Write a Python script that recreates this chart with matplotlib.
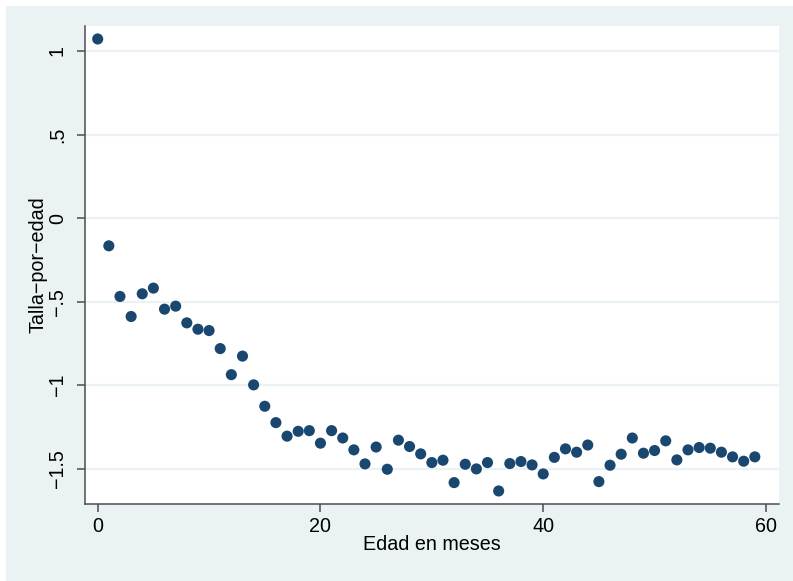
import numpy as np
import matplotlib.pyplot as plt
from matplotlib.patches import Rectangle

# edad en meses y puntaje medio talla-por-edad
edad = list(range(60))
talla = [1.072, -0.166, -0.469, -0.589, -0.453, -0.419, -0.545, -0.527, -0.627, -0.665,
         -0.673, -0.781, -0.937, -0.826, -0.998, -1.126, -1.224, -1.305, -1.276, -1.272,
         -1.347, -1.272, -1.316, -1.387, -1.471, -1.370, -1.503, -1.329, -1.367, -1.411,
         -1.463, -1.449, -1.583, -1.473, -1.501, -1.463, -1.633, -1.469, -1.457, -1.477,
         -1.531, -1.432, -1.381, -1.401, -1.358, -1.577, -1.479, -1.413, -1.316, -1.407,
         -1.391, -1.333, -1.447, -1.387, -1.373, -1.377, -1.401, -1.429, -1.455, -1.429]

xticks = [0, 20, 40, 60]
yticks = [1, 0.5, 0, -0.5, -1, -1.5]
ytick_labels = ["1", ".5", "0", "\u2212.5", "\u22121", "\u22121.5"]

plt.rcParams['font.family'] = ['Liberation Sans', 'DejaVu Sans']

bg = '#EAF2F3'
W, H = 793, 581
fig = plt.figure(figsize=(W / 100, H / 100), dpi=100, facecolor='white')
# stata-like outer region
fig.patches.append(Rectangle((6 / W, 0), 1 - 6 / W, 1 - 6 / H, transform=fig.transFigure,
                             facecolor=bg, edgecolor='none', zorder=-10))

ax = fig.add_axes([85 / W, 1 - 504 / H, 694 / W, 478 / H])
ax.set_facecolor('white')

ax.scatter(edad, talla, s=64, color='#1A476F', edgecolors='none', zorder=3, clip_on=False)

ax.set_xlim(-1.14, 61.17)
ax.set_ylim(-1.711, 1.1496)
ax.set_xticks(xticks)
ax.set_yticks(yticks)
ax.set_yticklabels(ytick_labels, rotation=90, va='center')

ax.grid(axis='y', color=bg, linewidth=1.6, zorder=0)
ax.set_axisbelow(True)

for side in ['top', 'right']:
    ax.spines[side].set_visible(False)
for side in ['left', 'bottom']:
    ax.spines[side].set_color('#4d4d4d')
    ax.spines[side].set_linewidth(1.1)

ax.tick_params(axis='both', colors='#4d4d4d', labelcolor='black', labelsize=14.2,
               length=6, width=1.1)
ax.tick_params(axis='y', pad=7)
ax.tick_params(axis='x', pad=3.5)

ax.set_xlabel('Edad en meses', fontsize=14.2)
ax.set_ylabel('Talla\u2212por\u2212edad', fontsize=14.2)
ax.xaxis.set_label_coords(0.5, -(545 - 504) / 478, transform=ax.transAxes)
ax.yaxis.set_label_coords(-(85 - 37.5) / 694, 0.5, transform=ax.transAxes)
ax.xaxis.label.set_va('center')
ax.yaxis.label.set_va('center')

fig.savefig('out.png', dpi=100, facecolor=fig.get_facecolor())
